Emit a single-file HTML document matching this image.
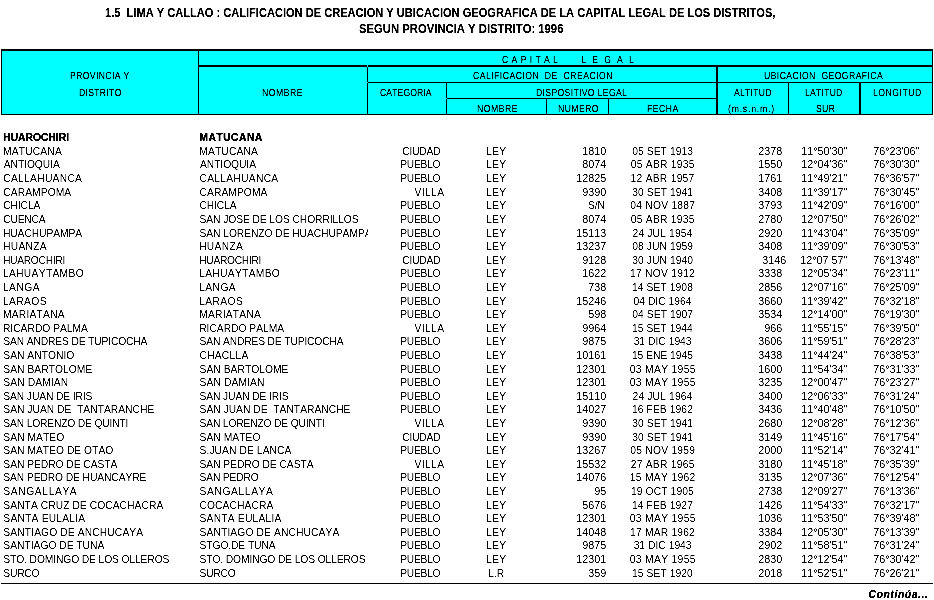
<!DOCTYPE html>
<html lang="es"><head><meta charset="utf-8"><title>1.5 LIMA Y CALLAO</title><style>
html,body{margin:0;padding:0;background:#fff}
body{width:934px;height:600px;position:relative;overflow:hidden;font-family:"Liberation Sans",Arial,sans-serif;color:#000}
span,i{position:absolute;display:block;white-space:pre;transform-origin:0 0;font-kerning:none}
.b,.bb,.c{font-size:10.3px;line-height:14px;height:14px}
.n{font-size:10.79px;line-height:14px;height:14px}
.bb{font-weight:bold;text-shadow:.1px 0 0 #000}
.c{font-weight:bold;font-style:italic;text-shadow:.1px 0 0 #000}
.t{font-size:12px;line-height:14px;height:14px;font-weight:bold;-webkit-text-stroke:.15px #000}
.h{font-size:10.2px;line-height:14px;height:14px;text-rendering:geometricPrecision;-webkit-text-stroke:0.15px #000}
.clip{overflow:hidden;height:14px}
#tx{position:absolute;left:0;top:0;width:934px;height:600px;filter:url(#px)}
</style></head><body>
<svg width="0" height="0" style="position:absolute"><filter id="px" x="0" y="0" width="100%" height="100%" color-interpolation-filters="sRGB"><feComponentTransfer><feFuncR type="linear" slope="0" intercept="0"/><feFuncG type="linear" slope="0" intercept="0"/><feFuncB type="linear" slope="0" intercept="0"/><feFuncA type="linear" slope="3" intercept="-1"/></feComponentTransfer></filter></svg>
<i style="left:1px;top:49px;width:932px;height:66px;background:#000"></i>
<i style="left:2px;top:51px;width:930px;height:63px;background:#0ff"></i>
<i style="left:198px;top:51px;width:1px;height:63px;background:#000"></i>
<i style="left:199px;top:65px;width:733px;height:2px;background:#000"></i>
<i style="left:367px;top:67px;width:1px;height:47px;background:#000"></i>
<i style="left:368px;top:82px;width:564px;height:1px;background:#000"></i>
<i style="left:446px;top:83px;width:1px;height:31px;background:#000"></i>
<i style="left:447px;top:98px;width:269px;height:1px;background:#000"></i>
<i style="left:546px;top:99px;width:1px;height:15px;background:#000"></i>
<i style="left:608px;top:99px;width:1px;height:15px;background:#000"></i>
<i style="left:716px;top:67px;width:2px;height:47px;background:#000"></i>
<i style="left:788px;top:83px;width:1px;height:31px;background:#000"></i>
<i style="left:859px;top:83px;width:2px;height:31px;background:#000"></i>
<i style="left:367px;top:65px;width:1px;height:2px;background:#0ff"></i>
<i style="left:367px;top:82px;width:1px;height:1px;background:#0ff"></i>
<i style="left:446px;top:98px;width:1px;height:1px;background:#0ff"></i>
<i style="left:1px;top:583px;width:932px;height:1px;background:#000"></i>
<div id="tx">
<span class="t" style="left:105.31px;top:6px;transform:scaleX(0.9234)">1.5  LIMA Y CALLAO : CALIFICACION DE CREACION Y UBICACION GEOGRAFICA DE LA CAPITAL LEGAL DE LOS DISTRITOS,</span>
<span class="t" style="left:358.98px;top:22px;transform:scaleX(0.9404)">SEGUN PROVINCIA Y DISTRITO: 1996</span>
<span class="h" style="left:69.99px;top:70px;transform:scaleX(0.8500);letter-spacing:0.414px">PROVINCIA Y</span>
<span class="h" style="left:78.99px;top:87px;transform:scaleX(0.8500);letter-spacing:0.331px">DISTRITO</span>
<span class="h" style="left:262.09px;top:87px;transform:scaleX(0.8500);letter-spacing:0.593px">NOMBRE</span>
<span class="h" style="left:502.37px;top:54px;transform:scaleX(0.8500);letter-spacing:0.529px">C A P I T A L        L  E  G  A  L</span>
<span class="h" style="left:473.37px;top:70px;transform:scaleX(0.8500);letter-spacing:0.541px">CALIFICACION  DE  CREACION</span>
<span class="h" style="left:380.47px;top:87px;transform:scaleX(0.8500);letter-spacing:0.086px">CATEGORIA</span>
<span class="h" style="left:535.99px;top:87px;transform:scaleX(0.8500);letter-spacing:0.385px">DISPOSITIVO LEGAL</span>
<span class="h" style="left:477.29px;top:103px;transform:scaleX(0.8500);letter-spacing:0.570px">NOMBRE</span>
<span class="h" style="left:558.14px;top:103px;transform:scaleX(0.8500);letter-spacing:0.492px">NUMERO</span>
<span class="h" style="left:646.89px;top:103px;transform:scaleX(0.8500);letter-spacing:0.542px">FECHA</span>
<span class="h" style="left:764.13px;top:70px;transform:scaleX(0.8500);letter-spacing:0.476px">UBICACION  GEOGRAFICA</span>
<span class="h" style="left:733.98px;top:87px;transform:scaleX(0.8500);letter-spacing:0.255px">ALTITUD</span>
<span class="h" style="left:728.46px;top:103px;transform:scaleX(0.8500);letter-spacing:0.923px">(m.s.n.m.)</span>
<span class="h" style="left:805.09px;top:87px;transform:scaleX(0.8500);letter-spacing:0.253px">LATITUD</span>
<span class="h" style="left:815.61px;top:103px;transform:scaleX(0.8500);letter-spacing:0.403px">SUR</span>
<span class="h" style="left:873.09px;top:87px;transform:scaleX(0.8500);letter-spacing:0.592px">LONGITUD</span>
<span class="bb" style="left:3.12px;top:131px;letter-spacing:0.007px">HUAROCHIRI</span>
<span class="bb" style="left:199.32px;top:131px;letter-spacing:0.492px">MATUCANA</span>
<span class="b" style="left:2.96px;top:145px;letter-spacing:0.150px">MATUCANA</span>
<span class="b" style="left:199.16px;top:145px;letter-spacing:0.150px">MATUCANA</span>
<span class="b" style="left:402.34px;top:145px;letter-spacing:-0.248px">CIUDAD</span>
<span class="b" style="left:486.28px;top:145px;letter-spacing:0.177px">LEY</span>
<span class="n" style="left:582.25px;top:144px">1810</span>
<span class="b" style="left:632.16px;top:145px;letter-spacing:0.079px">05 SET 1913</span>
<span class="n" style="left:758.25px;top:144px">2378</span>
<span class="n" style="left:801.25px;top:144px">11°50'30"</span>
<span class="n" style="left:873.25px;top:144px">76°23'06"</span>
<span class="b" style="left:3.78px;top:158px;letter-spacing:-0.073px">ANTIOQUIA</span>
<span class="b" style="left:199.98px;top:158px;letter-spacing:-0.073px">ANTIOQUIA</span>
<span class="b" style="left:400.29px;top:158px;letter-spacing:-0.298px">PUEBLO</span>
<span class="b" style="left:486.28px;top:158px;letter-spacing:0.177px">LEY</span>
<span class="n" style="left:582.25px;top:157px">8074</span>
<span class="b" style="left:630.74px;top:158px;letter-spacing:0.248px">05 ABR 1935</span>
<span class="n" style="left:758.25px;top:157px">1550</span>
<span class="n" style="left:801.25px;top:157px">12°04'36"</span>
<span class="n" style="left:873.25px;top:157px">76°30'30"</span>
<span class="b" style="left:3.28px;top:172px;letter-spacing:0.261px">CALLAHUANCA</span>
<span class="b" style="left:199.49px;top:172px;letter-spacing:0.261px">CALLAHUANCA</span>
<span class="b" style="left:400.29px;top:172px;letter-spacing:-0.298px">PUEBLO</span>
<span class="b" style="left:486.28px;top:172px;letter-spacing:0.177px">LEY</span>
<span class="n" style="left:576.25px;top:171px">12825</span>
<span class="b" style="left:630.59px;top:172px;letter-spacing:0.248px">12 ABR 1957</span>
<span class="n" style="left:758.25px;top:171px">1761</span>
<span class="n" style="left:801.25px;top:171px">11°49'21"</span>
<span class="n" style="left:873.25px;top:171px">76°36'57"</span>
<span class="b" style="left:3.28px;top:186px;letter-spacing:0.052px">CARAMPOMA</span>
<span class="b" style="left:199.49px;top:186px;letter-spacing:0.052px">CARAMPOMA</span>
<span class="b" style="left:414.51px;top:186px;letter-spacing:0.388px">VILLA</span>
<span class="b" style="left:486.28px;top:186px;letter-spacing:0.177px">LEY</span>
<span class="n" style="left:582.25px;top:185px">9390</span>
<span class="b" style="left:632.19px;top:186px;letter-spacing:0.079px">30 SET 1941</span>
<span class="n" style="left:758.25px;top:185px">3408</span>
<span class="n" style="left:801.25px;top:185px">11°39'17"</span>
<span class="n" style="left:873.25px;top:185px">76°30'45"</span>
<span class="b" style="left:3.28px;top:199px;letter-spacing:-0.129px">CHICLA</span>
<span class="b" style="left:199.49px;top:199px;letter-spacing:-0.129px">CHICLA</span>
<span class="b" style="left:400.29px;top:199px;letter-spacing:-0.298px">PUEBLO</span>
<span class="b" style="left:486.28px;top:199px;letter-spacing:0.177px">LEY</span>
<span class="b" style="left:587.98px;top:199px;letter-spacing:-0.057px">S/N</span>
<span class="b" style="left:630.28px;top:199px;letter-spacing:0.235px">04 NOV 1887</span>
<span class="n" style="left:758.25px;top:198px">3793</span>
<span class="n" style="left:801.25px;top:198px">11°42'09"</span>
<span class="n" style="left:873.25px;top:198px">76°16'00"</span>
<span class="b" style="left:3.28px;top:213px;letter-spacing:-0.249px">CUENCA</span>
<span class="b" style="left:199.54px;top:213px;letter-spacing:-0.093px">SAN JOSE DE LOS CHORRILLOS</span>
<span class="b" style="left:400.29px;top:213px;letter-spacing:-0.298px">PUEBLO</span>
<span class="b" style="left:486.28px;top:213px;letter-spacing:0.177px">LEY</span>
<span class="n" style="left:582.25px;top:212px">8074</span>
<span class="b" style="left:630.74px;top:213px;letter-spacing:0.248px">05 ABR 1935</span>
<span class="n" style="left:758.25px;top:212px">2780</span>
<span class="n" style="left:801.25px;top:212px">12°07'50"</span>
<span class="n" style="left:873.25px;top:212px">76°26'02"</span>
<span class="b" style="left:2.96px;top:227px;letter-spacing:-0.102px">HUACHUPAMPA</span>
<span class="clip" style="left:199.54px;top:227px;width:168.46px"><span class="b" style="left:0;top:0;letter-spacing:-0.076px">SAN LORENZO DE HUACHUPAMPA</span></span>
<span class="b" style="left:400.29px;top:227px;letter-spacing:-0.298px">PUEBLO</span>
<span class="b" style="left:486.28px;top:227px;letter-spacing:0.177px">LEY</span>
<span class="n" style="left:576.25px;top:226px">15113</span>
<span class="b" style="left:632.56px;top:227px;letter-spacing:0.145px">24 JUL 1954</span>
<span class="n" style="left:758.25px;top:226px">2920</span>
<span class="n" style="left:801.25px;top:226px">11°43'04"</span>
<span class="n" style="left:873.25px;top:226px">76°35'09"</span>
<span class="b" style="left:2.96px;top:240px;letter-spacing:0.275px">HUANZA</span>
<span class="b" style="left:199.16px;top:240px;letter-spacing:0.275px">HUANZA</span>
<span class="b" style="left:400.29px;top:240px;letter-spacing:-0.298px">PUEBLO</span>
<span class="b" style="left:486.28px;top:240px;letter-spacing:0.177px">LEY</span>
<span class="n" style="left:576.25px;top:239px">13237</span>
<span class="b" style="left:632.18px;top:240px;letter-spacing:0.080px">08 JUN 1959</span>
<span class="n" style="left:758.25px;top:239px">3408</span>
<span class="n" style="left:801.25px;top:239px">11°39'09"</span>
<span class="n" style="left:873.25px;top:239px">76°30'53"</span>
<span class="b" style="left:2.96px;top:254px;letter-spacing:-0.324px">HUAROCHIRI</span>
<span class="b" style="left:199.16px;top:254px;letter-spacing:-0.324px">HUAROCHIRI</span>
<span class="b" style="left:402.34px;top:254px;letter-spacing:-0.248px">CIUDAD</span>
<span class="b" style="left:486.28px;top:254px;letter-spacing:0.177px">LEY</span>
<span class="n" style="left:582.25px;top:253px">9128</span>
<span class="b" style="left:632.14px;top:254px;letter-spacing:0.080px">30 JUN 1940</span>
<span class="n" style="left:762.25px;top:253px">3146</span>
<span class="n" style="left:800.25px;top:253px">12°07 57"</span>
<span class="n" style="left:873.25px;top:253px">76°13'48"</span>
<span class="b" style="left:2.96px;top:267px;letter-spacing:0.287px">LAHUAYTAMBO</span>
<span class="b" style="left:199.16px;top:267px;letter-spacing:0.287px">LAHUAYTAMBO</span>
<span class="b" style="left:400.29px;top:267px;letter-spacing:-0.298px">PUEBLO</span>
<span class="b" style="left:486.28px;top:267px;letter-spacing:0.177px">LEY</span>
<span class="n" style="left:582.25px;top:266px">1622</span>
<span class="b" style="left:630.08px;top:267px;letter-spacing:0.235px">17 NOV 1912</span>
<span class="n" style="left:758.25px;top:266px">3338</span>
<span class="n" style="left:801.25px;top:266px">12°05'34"</span>
<span class="n" style="left:873.25px;top:266px">76°23'11"</span>
<span class="b" style="left:2.96px;top:281px;letter-spacing:0.416px">LANGA</span>
<span class="b" style="left:199.16px;top:281px;letter-spacing:0.416px">LANGA</span>
<span class="b" style="left:400.29px;top:281px;letter-spacing:-0.298px">PUEBLO</span>
<span class="b" style="left:486.28px;top:281px;letter-spacing:0.177px">LEY</span>
<span class="n" style="left:588.25px;top:280px">738</span>
<span class="b" style="left:631.97px;top:281px;letter-spacing:0.079px">14 SET 1908</span>
<span class="n" style="left:758.25px;top:280px">2856</span>
<span class="n" style="left:801.25px;top:280px">12°07'16"</span>
<span class="n" style="left:873.25px;top:280px">76°25'09"</span>
<span class="b" style="left:2.96px;top:295px;letter-spacing:0.369px">LARAOS</span>
<span class="b" style="left:199.16px;top:295px;letter-spacing:0.369px">LARAOS</span>
<span class="b" style="left:400.29px;top:295px;letter-spacing:-0.298px">PUEBLO</span>
<span class="b" style="left:486.28px;top:295px;letter-spacing:0.177px">LEY</span>
<span class="n" style="left:576.25px;top:294px">15246</span>
<span class="b" style="left:633.56px;top:295px;letter-spacing:0.015px">04 DIC 1964</span>
<span class="n" style="left:758.25px;top:294px">3660</span>
<span class="n" style="left:801.25px;top:294px">11°39'42"</span>
<span class="n" style="left:873.25px;top:294px">76°32'18"</span>
<span class="b" style="left:2.96px;top:308px;letter-spacing:0.212px">MARIATANA</span>
<span class="b" style="left:199.16px;top:308px;letter-spacing:0.212px">MARIATANA</span>
<span class="b" style="left:400.29px;top:308px;letter-spacing:-0.298px">PUEBLO</span>
<span class="b" style="left:486.28px;top:308px;letter-spacing:0.177px">LEY</span>
<span class="n" style="left:588.25px;top:307px">598</span>
<span class="b" style="left:632.20px;top:308px;letter-spacing:0.079px">04 SET 1907</span>
<span class="n" style="left:758.25px;top:307px">3534</span>
<span class="n" style="left:801.25px;top:307px">12°14'00"</span>
<span class="n" style="left:873.25px;top:307px">76°19'30"</span>
<span class="b" style="left:2.96px;top:322px;letter-spacing:-0.021px">RICARDO PALMA</span>
<span class="b" style="left:199.16px;top:322px;letter-spacing:-0.021px">RICARDO PALMA</span>
<span class="b" style="left:414.51px;top:322px;letter-spacing:0.388px">VILLA</span>
<span class="b" style="left:486.28px;top:322px;letter-spacing:0.177px">LEY</span>
<span class="n" style="left:582.25px;top:321px">9964</span>
<span class="b" style="left:631.90px;top:322px;letter-spacing:0.079px">15 SET 1944</span>
<span class="n" style="left:764.25px;top:321px">966</span>
<span class="n" style="left:801.25px;top:321px">11°55'15"</span>
<span class="n" style="left:873.25px;top:321px">76°39'50"</span>
<span class="b" style="left:3.34px;top:335px;letter-spacing:-0.159px">SAN ANDRES DE TUPICOCHA</span>
<span class="b" style="left:199.54px;top:335px;letter-spacing:-0.159px">SAN ANDRES DE TUPICOCHA</span>
<span class="b" style="left:400.29px;top:335px;letter-spacing:-0.298px">PUEBLO</span>
<span class="b" style="left:486.28px;top:335px;letter-spacing:0.177px">LEY</span>
<span class="n" style="left:582.25px;top:334px">9875</span>
<span class="b" style="left:633.63px;top:335px;letter-spacing:0.015px">31 DIC 1943</span>
<span class="n" style="left:758.25px;top:334px">3606</span>
<span class="n" style="left:801.25px;top:334px">11°59'51"</span>
<span class="n" style="left:873.25px;top:334px">76°28'23"</span>
<span class="b" style="left:3.34px;top:349px;letter-spacing:0.003px">SAN ANTONIO</span>
<span class="b" style="left:199.49px;top:349px;letter-spacing:0.213px">CHACLLA</span>
<span class="b" style="left:400.29px;top:349px;letter-spacing:-0.298px">PUEBLO</span>
<span class="b" style="left:486.28px;top:349px;letter-spacing:0.177px">LEY</span>
<span class="n" style="left:576.25px;top:348px">10161</span>
<span class="b" style="left:631.91px;top:349px;letter-spacing:-0.025px">15 ENE 1945</span>
<span class="n" style="left:758.25px;top:348px">3438</span>
<span class="n" style="left:801.25px;top:348px">11°44'24"</span>
<span class="n" style="left:873.25px;top:348px">76°38'53"</span>
<span class="b" style="left:3.34px;top:363px;letter-spacing:0.022px">SAN BARTOLOME</span>
<span class="b" style="left:199.54px;top:363px;letter-spacing:0.022px">SAN BARTOLOME</span>
<span class="b" style="left:400.29px;top:363px;letter-spacing:-0.298px">PUEBLO</span>
<span class="b" style="left:486.28px;top:363px;letter-spacing:0.177px">LEY</span>
<span class="n" style="left:576.25px;top:362px">12301</span>
<span class="b" style="left:629.77px;top:363px;letter-spacing:0.326px">03 MAY 1955</span>
<span class="n" style="left:758.25px;top:362px">1600</span>
<span class="n" style="left:801.25px;top:362px">11°54'34"</span>
<span class="n" style="left:873.25px;top:362px">76°31'33"</span>
<span class="b" style="left:3.34px;top:376px;letter-spacing:0.090px">SAN DAMIAN</span>
<span class="b" style="left:199.54px;top:376px;letter-spacing:0.090px">SAN DAMIAN</span>
<span class="b" style="left:400.29px;top:376px;letter-spacing:-0.298px">PUEBLO</span>
<span class="b" style="left:486.28px;top:376px;letter-spacing:0.177px">LEY</span>
<span class="n" style="left:576.25px;top:375px">12301</span>
<span class="b" style="left:629.77px;top:376px;letter-spacing:0.326px">03 MAY 1955</span>
<span class="n" style="left:758.25px;top:375px">3235</span>
<span class="n" style="left:801.25px;top:375px">12°00'47"</span>
<span class="n" style="left:873.25px;top:375px">76°23'27"</span>
<span class="b" style="left:3.34px;top:390px;letter-spacing:-0.125px">SAN JUAN DE IRIS</span>
<span class="b" style="left:199.54px;top:390px;letter-spacing:-0.125px">SAN JUAN DE IRIS</span>
<span class="b" style="left:400.29px;top:390px;letter-spacing:-0.298px">PUEBLO</span>
<span class="b" style="left:486.28px;top:390px;letter-spacing:0.177px">LEY</span>
<span class="n" style="left:576.25px;top:389px">15110</span>
<span class="b" style="left:632.56px;top:390px;letter-spacing:0.145px">24 JUL 1964</span>
<span class="n" style="left:758.25px;top:389px">3400</span>
<span class="n" style="left:801.25px;top:389px">12°06'33"</span>
<span class="n" style="left:873.25px;top:389px">76°31'24"</span>
<span class="b" style="left:3.34px;top:403px;letter-spacing:-0.004px">SAN JUAN DE  TANTARANCHE</span>
<span class="b" style="left:199.54px;top:403px;letter-spacing:-0.004px">SAN JUAN DE  TANTARANCHE</span>
<span class="b" style="left:400.29px;top:403px;letter-spacing:-0.298px">PUEBLO</span>
<span class="b" style="left:486.28px;top:403px;letter-spacing:0.177px">LEY</span>
<span class="n" style="left:576.25px;top:402px">14027</span>
<span class="b" style="left:632.01px;top:403px;letter-spacing:0.079px">16 FEB 1962</span>
<span class="n" style="left:758.25px;top:402px">3436</span>
<span class="n" style="left:801.25px;top:402px">11°40'48"</span>
<span class="n" style="left:873.25px;top:402px">76°10'50"</span>
<span class="b" style="left:3.34px;top:417px;letter-spacing:-0.179px">SAN LORENZO DE QUINTI</span>
<span class="b" style="left:199.54px;top:417px;letter-spacing:-0.179px">SAN LORENZO DE QUINTI</span>
<span class="b" style="left:414.51px;top:417px;letter-spacing:0.388px">VILLA</span>
<span class="b" style="left:486.28px;top:417px;letter-spacing:0.177px">LEY</span>
<span class="n" style="left:582.25px;top:416px">9390</span>
<span class="b" style="left:632.19px;top:417px;letter-spacing:0.079px">30 SET 1941</span>
<span class="n" style="left:758.25px;top:416px">2680</span>
<span class="n" style="left:801.25px;top:416px">12°08'28"</span>
<span class="n" style="left:873.25px;top:416px">76°12'36"</span>
<span class="b" style="left:3.34px;top:431px;letter-spacing:0.037px">SAN MATEO</span>
<span class="b" style="left:199.54px;top:431px;letter-spacing:0.037px">SAN MATEO</span>
<span class="b" style="left:402.34px;top:431px;letter-spacing:-0.248px">CIUDAD</span>
<span class="b" style="left:486.28px;top:431px;letter-spacing:0.177px">LEY</span>
<span class="n" style="left:582.25px;top:430px">9390</span>
<span class="b" style="left:632.19px;top:431px;letter-spacing:0.079px">30 SET 1941</span>
<span class="n" style="left:758.25px;top:430px">3149</span>
<span class="n" style="left:801.25px;top:430px">11°45'16"</span>
<span class="n" style="left:873.25px;top:430px">76°17'54"</span>
<span class="b" style="left:3.34px;top:444px;letter-spacing:0.007px">SAN MATEO DE OTAO</span>
<span class="b" style="left:199.54px;top:444px;letter-spacing:0.066px">S.JUAN DE LANCA</span>
<span class="b" style="left:400.29px;top:444px;letter-spacing:-0.298px">PUEBLO</span>
<span class="b" style="left:486.28px;top:444px;letter-spacing:0.177px">LEY</span>
<span class="n" style="left:576.25px;top:443px">13267</span>
<span class="b" style="left:630.26px;top:444px;letter-spacing:0.235px">05 NOV 1959</span>
<span class="n" style="left:758.25px;top:443px">2000</span>
<span class="n" style="left:801.25px;top:443px">11°52'14"</span>
<span class="n" style="left:873.25px;top:443px">76°32'41"</span>
<span class="b" style="left:3.34px;top:458px;letter-spacing:-0.058px">SAN PEDRO DE CASTA</span>
<span class="b" style="left:199.54px;top:458px;letter-spacing:-0.058px">SAN PEDRO DE CASTA</span>
<span class="b" style="left:414.51px;top:458px;letter-spacing:0.388px">VILLA</span>
<span class="b" style="left:486.28px;top:458px;letter-spacing:0.177px">LEY</span>
<span class="n" style="left:576.25px;top:457px">15532</span>
<span class="b" style="left:630.68px;top:458px;letter-spacing:0.248px">27 ABR 1965</span>
<span class="n" style="left:758.25px;top:457px">3180</span>
<span class="n" style="left:801.25px;top:457px">11°45'18"</span>
<span class="n" style="left:873.25px;top:457px">76°35'39"</span>
<span class="b" style="left:3.34px;top:471px;letter-spacing:-0.108px">SAN PEDRO DE HUANCAYRE</span>
<span class="b" style="left:199.54px;top:471px;letter-spacing:-0.185px">SAN PEDRO</span>
<span class="b" style="left:400.29px;top:471px;letter-spacing:-0.298px">PUEBLO</span>
<span class="b" style="left:486.28px;top:471px;letter-spacing:0.177px">LEY</span>
<span class="n" style="left:576.25px;top:470px">14076</span>
<span class="b" style="left:629.63px;top:471px;letter-spacing:0.326px">15 MAY 1962</span>
<span class="n" style="left:758.25px;top:470px">3135</span>
<span class="n" style="left:801.25px;top:470px">12°07'36"</span>
<span class="n" style="left:873.25px;top:470px">76°12'54"</span>
<span class="b" style="left:3.34px;top:485px;letter-spacing:0.587px">SANGALLAYA</span>
<span class="b" style="left:199.54px;top:485px;letter-spacing:0.587px">SANGALLAYA</span>
<span class="b" style="left:400.29px;top:485px;letter-spacing:-0.298px">PUEBLO</span>
<span class="b" style="left:486.28px;top:485px;letter-spacing:0.177px">LEY</span>
<span class="n" style="left:594.25px;top:484px">95</span>
<span class="b" style="left:630.97px;top:485px;letter-spacing:0.106px">19 OCT 1905</span>
<span class="n" style="left:758.25px;top:484px">2738</span>
<span class="n" style="left:801.25px;top:484px">12°09'27"</span>
<span class="n" style="left:873.25px;top:484px">76°13'36"</span>
<span class="b" style="left:3.34px;top:499px;letter-spacing:0.038px">SANTA CRUZ DE COCACHACRA</span>
<span class="b" style="left:199.49px;top:499px;letter-spacing:0.075px">COCACHACRA</span>
<span class="b" style="left:400.29px;top:499px;letter-spacing:-0.298px">PUEBLO</span>
<span class="b" style="left:486.28px;top:499px;letter-spacing:0.177px">LEY</span>
<span class="n" style="left:582.25px;top:498px">5676</span>
<span class="b" style="left:632.01px;top:499px;letter-spacing:0.079px">14 FEB 1927</span>
<span class="n" style="left:758.25px;top:498px">1426</span>
<span class="n" style="left:801.25px;top:498px">11°54'33"</span>
<span class="n" style="left:873.25px;top:498px">76°32'17"</span>
<span class="b" style="left:3.34px;top:512px;letter-spacing:0.187px">SANTA EULALIA</span>
<span class="b" style="left:199.54px;top:512px;letter-spacing:0.187px">SANTA EULALIA</span>
<span class="b" style="left:400.29px;top:512px;letter-spacing:-0.298px">PUEBLO</span>
<span class="b" style="left:486.28px;top:512px;letter-spacing:0.177px">LEY</span>
<span class="n" style="left:576.25px;top:511px">12301</span>
<span class="b" style="left:629.77px;top:512px;letter-spacing:0.326px">03 MAY 1955</span>
<span class="n" style="left:758.25px;top:511px">1036</span>
<span class="n" style="left:801.25px;top:511px">11°53'50"</span>
<span class="n" style="left:873.25px;top:511px">76°39'48"</span>
<span class="b" style="left:3.34px;top:526px;letter-spacing:0.099px">SANTIAGO DE ANCHUCAYA</span>
<span class="b" style="left:199.54px;top:526px;letter-spacing:0.099px">SANTIAGO DE ANCHUCAYA</span>
<span class="b" style="left:400.29px;top:526px;letter-spacing:-0.298px">PUEBLO</span>
<span class="b" style="left:486.28px;top:526px;letter-spacing:0.177px">LEY</span>
<span class="n" style="left:576.25px;top:525px">14048</span>
<span class="b" style="left:630.06px;top:526px;letter-spacing:0.183px">17 MAR 1962</span>
<span class="n" style="left:758.25px;top:525px">3384</span>
<span class="n" style="left:801.25px;top:525px">12°05'30"</span>
<span class="n" style="left:873.25px;top:525px">76°13'39"</span>
<span class="b" style="left:3.34px;top:539px;letter-spacing:-0.018px">SANTIAGO DE TUNA</span>
<span class="b" style="left:199.54px;top:539px;letter-spacing:-0.105px">STGO.DE TUNA</span>
<span class="b" style="left:400.29px;top:539px;letter-spacing:-0.298px">PUEBLO</span>
<span class="b" style="left:486.28px;top:539px;letter-spacing:0.177px">LEY</span>
<span class="n" style="left:582.25px;top:538px">9875</span>
<span class="b" style="left:633.63px;top:539px;letter-spacing:0.015px">31 DIC 1943</span>
<span class="n" style="left:758.25px;top:538px">2902</span>
<span class="n" style="left:801.25px;top:538px">11°58'51"</span>
<span class="n" style="left:873.25px;top:538px">76°31'24"</span>
<span class="b" style="left:3.34px;top:553px;letter-spacing:-0.126px">STO. DOMINGO DE LOS OLLEROS</span>
<span class="b" style="left:199.54px;top:553px;letter-spacing:-0.126px">STO. DOMINGO DE LOS OLLEROS</span>
<span class="b" style="left:400.29px;top:553px;letter-spacing:-0.298px">PUEBLO</span>
<span class="b" style="left:486.28px;top:553px;letter-spacing:0.177px">LEY</span>
<span class="n" style="left:576.25px;top:552px">12301</span>
<span class="b" style="left:629.77px;top:553px;letter-spacing:0.326px">03 MAY 1955</span>
<span class="n" style="left:758.25px;top:552px">2830</span>
<span class="n" style="left:801.25px;top:552px">12°12'54"</span>
<span class="n" style="left:873.25px;top:552px">76°30'42"</span>
<span class="b" style="left:3.34px;top:567px;letter-spacing:-0.239px">SURCO</span>
<span class="b" style="left:199.54px;top:567px;letter-spacing:-0.239px">SURCO</span>
<span class="b" style="left:400.29px;top:567px;letter-spacing:-0.298px">PUEBLO</span>
<span class="b" style="left:488.31px;top:567px;letter-spacing:-0.009px">L.R</span>
<span class="n" style="left:588.25px;top:566px">359</span>
<span class="b" style="left:631.94px;top:567px;letter-spacing:0.079px">15 SET 1920</span>
<span class="n" style="left:758.25px;top:566px">2018</span>
<span class="n" style="left:801.25px;top:566px">11°52'51"</span>
<span class="n" style="left:873.25px;top:566px">76°26'21"</span>
<span class="c" style="left:868.51px;top:588px;letter-spacing:0.616px">Continúa...</span>
</div>
</body></html>
